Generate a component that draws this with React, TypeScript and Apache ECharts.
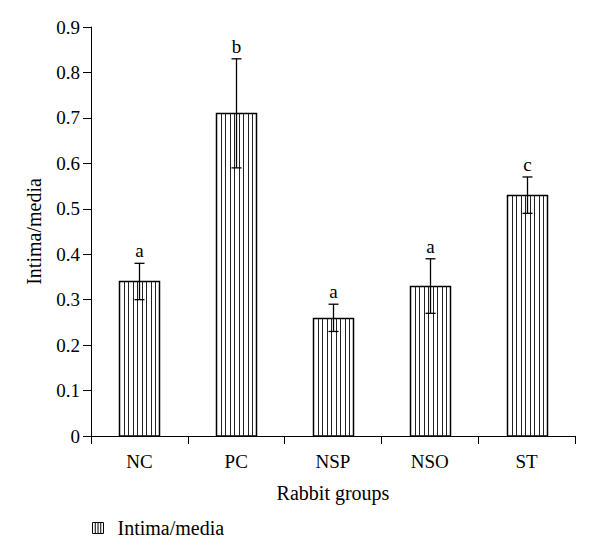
import React, { useEffect, useRef } from "react";
import * as echarts from "echarts";

const categories = ["NC", "PC", "NSP", "NSO", "ST"];
const values = [0.34, 0.71, 0.26, 0.33, 0.53];
const errors = [0.04, 0.12, 0.03, 0.06, 0.04];
const letters = ["a", "b", "a", "a", "c"];
const seriesName = "Intima/media";
const xName = "Rabbit groups";
const yName = "Intima/media";

const FONT = "'Liberation Serif', 'DejaVu Serif', serif";

export default function App() {
  const ref = useRef<HTMLDivElement>(null);
  useEffect(() => {
    if (!ref.current) return;
    document.body.style.margin = "0";
    const chart = echarts.init(ref.current, null, { renderer: "svg" });
    const barData = values.map((v, i) => [i, v]);
    const errData = values.map((v, i) => [i, v, errors[i], letters[i]]);
    chart.setOption({
      animation: false,
      backgroundColor: "#fff",
      textStyle: { fontFamily: FONT, color: "#000" },
      grid: { left: 91, right: 25, top: 27, bottom: 124 },
      legend: {
        data: [
          {
            name: seriesName,
            icon: "path://M0,0 H12 V12 H0 Z M3,0 V12 M6,0 V12 M9,0 V12",
          },
        ],
        left: 92,
        top: 518,
        padding: 0,
        itemWidth: 11,
        itemHeight: 11,
        itemStyle: { color: "#fff", borderColor: "#000", borderWidth: 1 },
        textStyle: { fontFamily: FONT, fontSize: 20, color: "#000", padding: [0, 0, 0, 9] },
      },
      xAxis: {
        type: "category",
        data: categories,
        name: xName,
        nameLocation: "middle",
        nameGap: 47,
        nameTextStyle: { fontFamily: FONT, fontSize: 20, color: "#000" },
        axisLine: { lineStyle: { color: "#000", width: 1 } },
        axisTick: { show: true, length: 8, lineStyle: { color: "#000" } },
        axisLabel: { fontFamily: FONT, fontSize: 19, color: "#000", margin: 16 },
        splitLine: { show: false },
      },
      yAxis: {
        type: "value",
        min: 0,
        max: 0.9,
        interval: 0.1,
        name: yName,
        nameLocation: "middle",
        nameGap: 47,
        nameTextStyle: { fontFamily: FONT, fontSize: 20, color: "#000" },
        axisLine: { show: true, lineStyle: { color: "#000", width: 1 } },
        axisTick: { show: true, length: 8, lineStyle: { color: "#000" } },
        axisLabel: { fontFamily: FONT, fontSize: 19, color: "#000", margin: 11 },
        splitLine: { show: false },
      },
      series: [
        {
          name: seriesName,
          type: "custom",
          data: barData,
          encode: { x: 0, y: 1 },
          renderItem: (params: any, api: any) => {
            const i = api.value(0);
            const v = api.value(1);
            const top = api.coord([i, v]);
            const base = api.coord([i, 0]);
            const w = 40;
            const x0 = Math.round(top[0] - w / 2) + 0.5;
            const y0 = Math.round(top[1]) + 0.5;
            const h = base[1] - y0;
            const children: any[] = [
              {
                type: "rect",
                shape: { x: x0, y: y0, width: w, height: h },
                style: { fill: "#fff", stroke: "#000", lineWidth: 1.5 },
              },
            ];
            const n = 9;
            for (let k = 1; k < n; k++) {
              const lx = Math.round(x0 + (k * w) / n) + 0.5;
              children.push({
                type: "line",
                shape: { x1: lx, y1: y0, x2: lx, y2: base[1] },
                style: { stroke: "#222", lineWidth: 1 },
              });
            }
            return { type: "group", children };
          },
        },
        {
          name: "errors",
          type: "custom",
          data: errData,
          encode: { x: 0, y: 1 },
          z: 5,
          renderItem: (params: any, api: any) => {
            const i = api.value(0);
            const v = api.value(1);
            const e = api.value(2);
            const letter = letters[params.dataIndex];
            const hi = api.coord([i, v + e]);
            const lo = api.coord([i, v - e]);
            const cx = Math.round(hi[0]) + 0.5;
            const cap = 5;
            const st = { stroke: "#000", lineWidth: 1.3 };
            return {
              type: "group",
              children: [
                { type: "line", shape: { x1: cx, y1: hi[1], x2: cx, y2: lo[1] }, style: st },
                { type: "line", shape: { x1: cx - cap, y1: hi[1], x2: cx + cap, y2: hi[1] }, style: st },
                { type: "line", shape: { x1: cx - cap, y1: lo[1], x2: cx + cap, y2: lo[1] }, style: st },
                {
                  type: "text",
                  style: {
                    text: letter,
                    x: cx,
                    y: hi[1] - 3,
                    textAlign: "center",
                    textVerticalAlign: "bottom",
                    font: `19px ${FONT}`,
                    fill: "#000",
                  },
                },
              ],
            };
          },
        },
      ],
    });
    return () => chart.dispose();
  }, []);
  return <div ref={ref} style={{ width: 600, height: 560 }} />;
}
